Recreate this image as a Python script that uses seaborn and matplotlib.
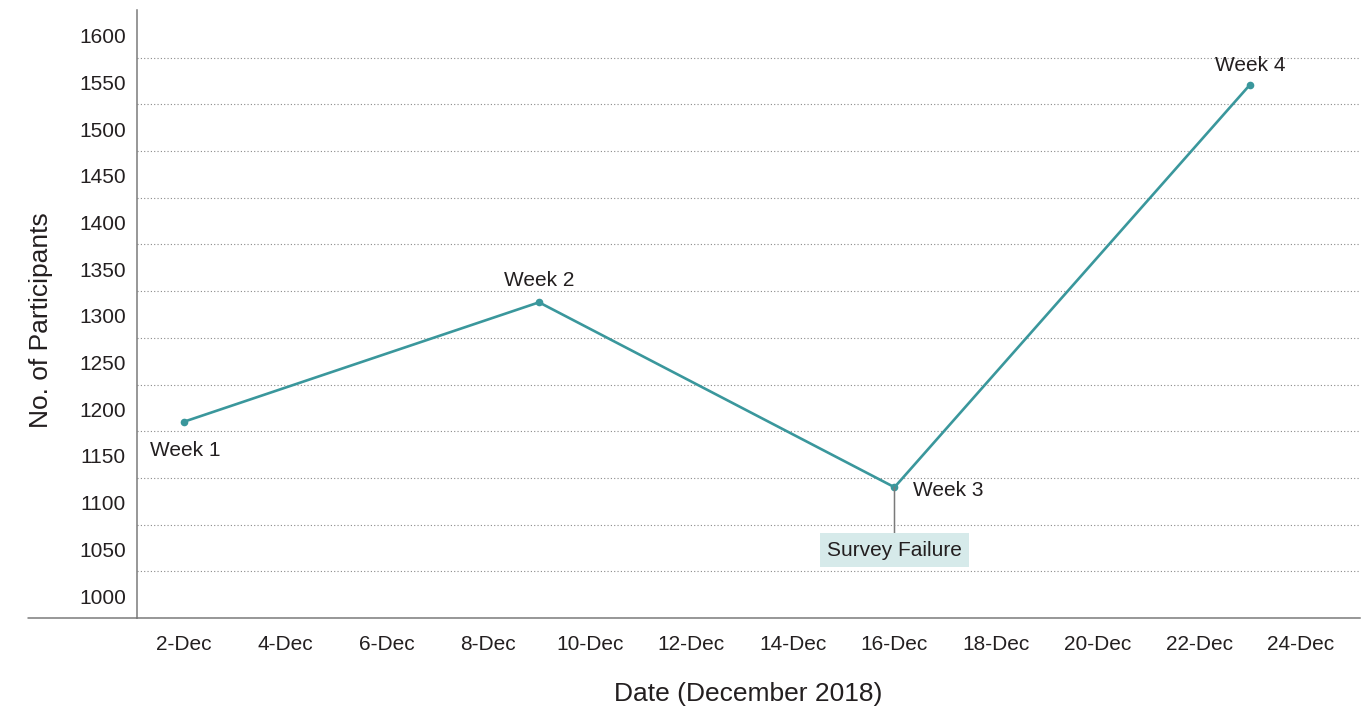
import matplotlib
matplotlib.use('Agg')
import matplotlib.pyplot as plt
import matplotlib.dates as mdates
import matplotlib.transforms as mtrans
from matplotlib.lines import Line2D
import pandas as pd
import seaborn as sns

sns.set_theme(style='white')
plt.rcParams['font.family'] = ['Liberation Sans', 'DejaVu Sans']

dates = pd.to_datetime(['2018-12-02', '2018-12-09', '2018-12-16', '2018-12-23'])
participants = [1210, 1338, 1140, 1571]
weeks = ['Week 1', 'Week 2', 'Week 3', 'Week 4']
y_ticks = list(range(1000, 1601, 50))

TEAL = '#3a979c'
TEXT = '#231f20'
GREY = '#7a7a7a'

df = pd.DataFrame({'Date': dates, 'Participants': participants, 'Week': weeks})

fig = plt.figure(figsize=(13.69, 7.08), dpi=100)
ax = fig.add_axes([137 / 1369, 1 - 618 / 708, 1223 / 1369, 608 / 708])

sns.lineplot(data=df, x='Date', y='Participants', color=TEAL, lw=1.9,
             marker='o', markersize=5.5, markeredgewidth=0, ax=ax)

ax.set_ylim(1000, 1651)
ax.set_xlim(pd.Timestamp('2018-12-01 02:00'), pd.Timestamp('2018-12-25 04:00'))

ax.set_yticks(y_ticks)
ax.yaxis.grid(True, color='#8a8a8a', linestyle=(0, (1, 2)), lw=0.8)
ax.xaxis.grid(False)
ax.tick_params(axis='both', length=0, labelsize=15, colors=TEXT)
ax.tick_params(axis='y', pad=8)
ax.tick_params(axis='x', pad=12)
# y labels sit half a step above their grid lines
shift = mtrans.ScaledTranslation(0, 0.22, fig.dpi_scale_trans)
for lbl in ax.get_yticklabels():
    lbl.set_transform(lbl.get_transform() + shift)
ax.xaxis.set_major_locator(mdates.DayLocator(bymonthday=range(2, 25, 2)))
ax.xaxis.set_major_formatter(mdates.DateFormatter('%-d-%b'))

for side in ['top', 'right']:
    ax.spines[side].set_visible(False)
for side in ['left', 'bottom']:
    ax.spines[side].set_color(GREY)
    ax.spines[side].set_linewidth(1.1)
# bottom axis line runs on past the y axis
fig.add_artist(Line2D([28 / 1369, 137 / 1369], [1 - 618 / 708] * 2,
                      color=GREY, lw=1.1, transform=fig.transFigure))

ax.set_xlabel('Date (December 2018)', fontsize=19, color=TEXT)
ax.set_ylabel('No. of Participants', fontsize=19, color=TEXT)
ax.xaxis.set_label_coords(0.5, -0.105)
ax.yaxis.set_label_coords(-0.069, 0.49)

offsets = [(2, -29, 'center'), (0, 22, 'center'), (19, -3, 'left'), (0, 19, 'center')]
for d, v, w, (dx, dy, ha) in zip(dates, participants, weeks, offsets):
    ax.annotate(w, (d, v), xytext=(dx * 0.72, dy * 0.72), textcoords='offset points',
                ha=ha, va='center', fontsize=15, color=TEXT)

ax.annotate('Survey Failure', (dates[2], participants[2]), xytext=(0, -63 * 0.72),
            textcoords='offset points', ha='center', va='center', fontsize=15, color=TEXT,
            bbox=dict(boxstyle='square,pad=0.36', fc='#d6eaea', ec='none'),
            arrowprops=dict(arrowstyle='-', color=GREY, lw=1.1, shrinkA=0, shrinkB=0))

fig.savefig('out.png', dpi=100)
